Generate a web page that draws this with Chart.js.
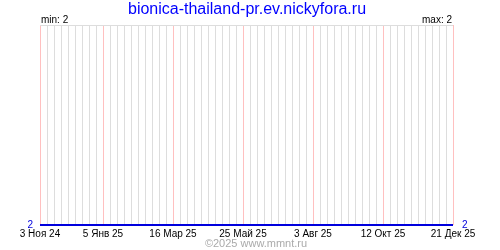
<!DOCTYPE html>
<html>
<head>
<meta charset="utf-8">
<script src="https://cdn.jsdelivr.net/npm/chart.js@4"></script>
<style>
  html, body { margin: 0; padding: 0; background: #fff; }
  #wrap { width: 500px; height: 250px; }
</style>
</head>
<body>
<div id="wrap"><canvas id="visitsChart"></canvas></div>
<script>
// weekly values, 3 Nov 2024 .. 21 Dec 2025
const weekValues = [
  2, 2, 2, 2, 2, 2, 2, 2, 2, 2,
  2, 2, 2, 2, 2, 2, 2, 2, 2, 2,
  2, 2, 2, 2, 2, 2, 2, 2, 2, 2,
  2, 2, 2, 2, 2, 2, 2, 2, 2, 2,
  2, 2, 2, 2, 2, 2, 2, 2, 2, 2,
  2, 2, 2, 2, 2, 2, 2, 2, 2, 2
];
const tickWeeks = [0, 9, 19, 29, 39, 49, 59];
const tickLabels = ['3 Ноя 24', '5 Янв 25', '16 Мар 25', '25 Май 25', '3 Авг 25', '12 Окт 25', '21 Дек 25'];
const siteTitle = 'bionica-thailand-pr.ev.nickyfora.ru';
const copyright = '©2025 www.mmnt.ru';

const GRID = '#dddddd';
const PINK = '#ffc0c0';
const BLUE = '#0000dd';

Chart.defaults.font.family = '"Liberation Sans", Arial, sans-serif';
Chart.defaults.font.size = 10;

const minV = Math.min(...weekValues);
const maxV = Math.max(...weekValues);

// one colour per weekly grid line, pink where a date label sits
const xGridColors = weekValues.map((v, i) => (tickWeeks.includes(i) ? PINK : GRID));

// title, min/max and copyright
const textPlugin = {
  id: 'texts',
  afterDraw(chart) {
    const ctx = chart.ctx;
    const area = chart.chartArea;
    ctx.save();
    ctx.textBaseline = 'alphabetic';
    ctx.font = '16px "Liberation Sans", Arial, sans-serif';
    ctx.fillStyle = '#0000ff';
    ctx.textAlign = 'center';
    ctx.fillText(siteTitle, 247, 14);

    ctx.font = '10px "Liberation Sans", Arial, sans-serif';
    ctx.fillStyle = '#000';
    ctx.textAlign = 'left';
    ctx.fillText('min: ' + minV, area.left + 1, 23);
    ctx.textAlign = 'right';
    ctx.fillText('max: ' + maxV, area.right - 1, 23);

    ctx.font = '11px "Liberation Sans", Arial, sans-serif';
    ctx.fillStyle = '#aaaaaa';
    ctx.textAlign = 'center';
    ctx.fillText(copyright, 256, 247);
    ctx.restore();
  }
};

const yTicks = {
  stepSize: 1,
  color: BLUE,
  callback: v => (v === minV ? String(v) : '')
};

new Chart(document.getElementById('visitsChart').getContext('2d'), {
  type: 'line',
  data: {
    datasets: [{
      data: weekValues.map((v, i) => ({ x: i, y: v })),
      borderColor: BLUE,
      borderWidth: 2,
      pointRadius: 0,
      tension: 0,
      clip: 3
    }]
  },
  options: {
    responsive: true,
    maintainAspectRatio: false,
    animation: false,
    layout: { padding: { top: 25, left: 0, right: 0, bottom: 0 } },
    plugins: {
      legend: { display: false },
      tooltip: { enabled: false }
    },
    scales: {
      x: {
        type: 'linear',
        min: 0,
        max: weekValues.length - 1,
        border: { display: false },
        grid: {
          drawTicks: false,
          color: xGridColors
        },
        ticks: {
          stepSize: 1,
          autoSkip: false,
          maxRotation: 0,
          padding: 3,
          color: '#000',
          callback: v => {
            const k = tickWeeks.indexOf(Math.round(v));
            return k >= 0 ? tickLabels[k] : '';
          }
        },
        afterFit: s => { s.height = 25; }
      },
      y: {
        position: 'left',
        min: minV,
        max: minV + 1,
        border: { display: false },
        grid: {
          drawTicks: false,
          color: ['rgba(0,0,0,0)', GRID]
        },
        ticks: Object.assign({ padding: 7 }, yTicks),
        afterFit: s => { s.width = 40; }
      },
      y2: {
        position: 'right',
        min: minV,
        max: minV + 1,
        border: { display: false },
        grid: { display: false, drawTicks: false },
        ticks: Object.assign({ padding: 9 }, yTicks),
        afterFit: s => { s.width = 47; }
      }
    }
  },
  plugins: [textPlugin]
});
</script>
</body>
</html>
